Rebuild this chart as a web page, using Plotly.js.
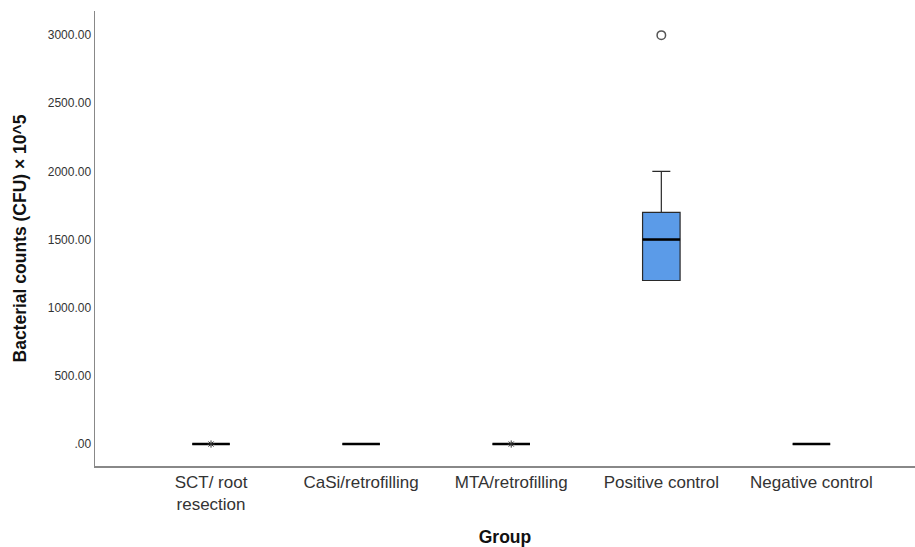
<!DOCTYPE html>
<html>
<head>
<meta charset="utf-8">
<script src="https://cdn.plot.ly/plotly-3.0.1.min.js"></script>
<style>html,body{margin:0;padding:0;background:#fff;}#chart{width:915px;height:547px;}</style>
</head>
<body>
<div id="chart"></div>
<script>
// Data
const categories = ["SCT/ root<br>resection", "CaSi/retrofilling", "MTA/retrofilling", "Positive control", "Negative control"];
const q1Values = [0, 0, 0, 1200, 0];
const medianValues = [0, 0, 0, 1500, 0];
const q3Values = [0, 0, 0, 1700, 0];
const lowerFence = [0, 0, 0, 1200, 0];
const upperFence = [0, 0, 0, 2000, 0];
const outlierGroups = ["Positive control"];
const outlierValues = [3000];
const extremeGroups = ["SCT/ root<br>resection", "MTA/retrofilling"];
const extremeValues = [0, 0];
const yTickVals = [0, 500, 1000, 1500, 2000, 2500, 3000];
const yTickText = [".00", "500.00", "1000.00", "1500.00", "2000.00", "2500.00", "3000.00"];

const boxTrace = {
  type: "box",
  x: categories,
  q1: q1Values,
  median: medianValues,
  q3: q3Values,
  lowerfence: lowerFence,
  upperfence: upperFence,
  width: 0.25,
  whiskerwidth: 0.48,
  fillcolor: "#5b9be8",
  line: {color: "#2a2a2a", width: 1.2},
  hoverinfo: "skip",
  showlegend: false
};
const medianTrace = {
  type: "box",
  x: categories,
  q1: medianValues,
  median: medianValues,
  q3: medianValues,
  lowerfence: medianValues,
  upperfence: medianValues,
  width: 0.25,
  whiskerwidth: 0,
  fillcolor: "rgba(0,0,0,0)",
  line: {color: "#000000", width: 2.5},
  hoverinfo: "skip",
  showlegend: false
};
const outlierTrace = {
  type: "scatter",
  mode: "markers",
  x: outlierGroups,
  y: outlierValues,
  marker: {symbol: "circle-open", size: 8.5, color: "#555555", line: {width: 1.5, color: "#555555"}},
  showlegend: false
};
const extremeTrace = {
  type: "scatter",
  mode: "markers",
  x: extremeGroups,
  y: extremeValues,
  marker: {symbol: "asterisk-open", size: 6, color: "#333333", line: {width: 1, color: "#333333"}},
  showlegend: false
};

const layout = {
  width: 915,
  height: 547,
  margin: {l: 95, r: 0, t: 11, b: 81},
  paper_bgcolor: "#ffffff",
  plot_bgcolor: "#ffffff",
  boxmode: "overlay",
  font: {family: "Liberation Sans, Arial, sans-serif", color: "#333333"},
  xaxis: {
    type: "category",
    categoryorder: "array",
    categoryarray: categories,
    range: [-0.773, 4.69],
    showline: true,
    linecolor: "#888888",
    linewidth: 1.5,
    showgrid: false,
    zeroline: false,
    ticks: "",
    tickfont: {size: 17, color: "#333333"},
    title: {text: "<b>Group</b>", font: {size: 17.5, color: "#111111"}, standoff: 26}
  },
  yaxis: {
    range: [-161, 3177],
    showline: true,
    linecolor: "#888888",
    linewidth: 1.5,
    showgrid: false,
    zeroline: false,
    ticks: "",
    tickvals: yTickVals,
    ticktext: yTickText,
    tickfont: {size: 12, color: "#333333"},
    title: {text: "<b>Bacterial counts (CFU) × 10^5</b>", font: {size: 17.5, color: "#111111"}, standoff: 16}
  }
};

Plotly.newPlot("chart", [boxTrace, medianTrace, outlierTrace, extremeTrace], layout, {displayModeBar: false, staticPlot: true});
</script>
</body>
</html>
